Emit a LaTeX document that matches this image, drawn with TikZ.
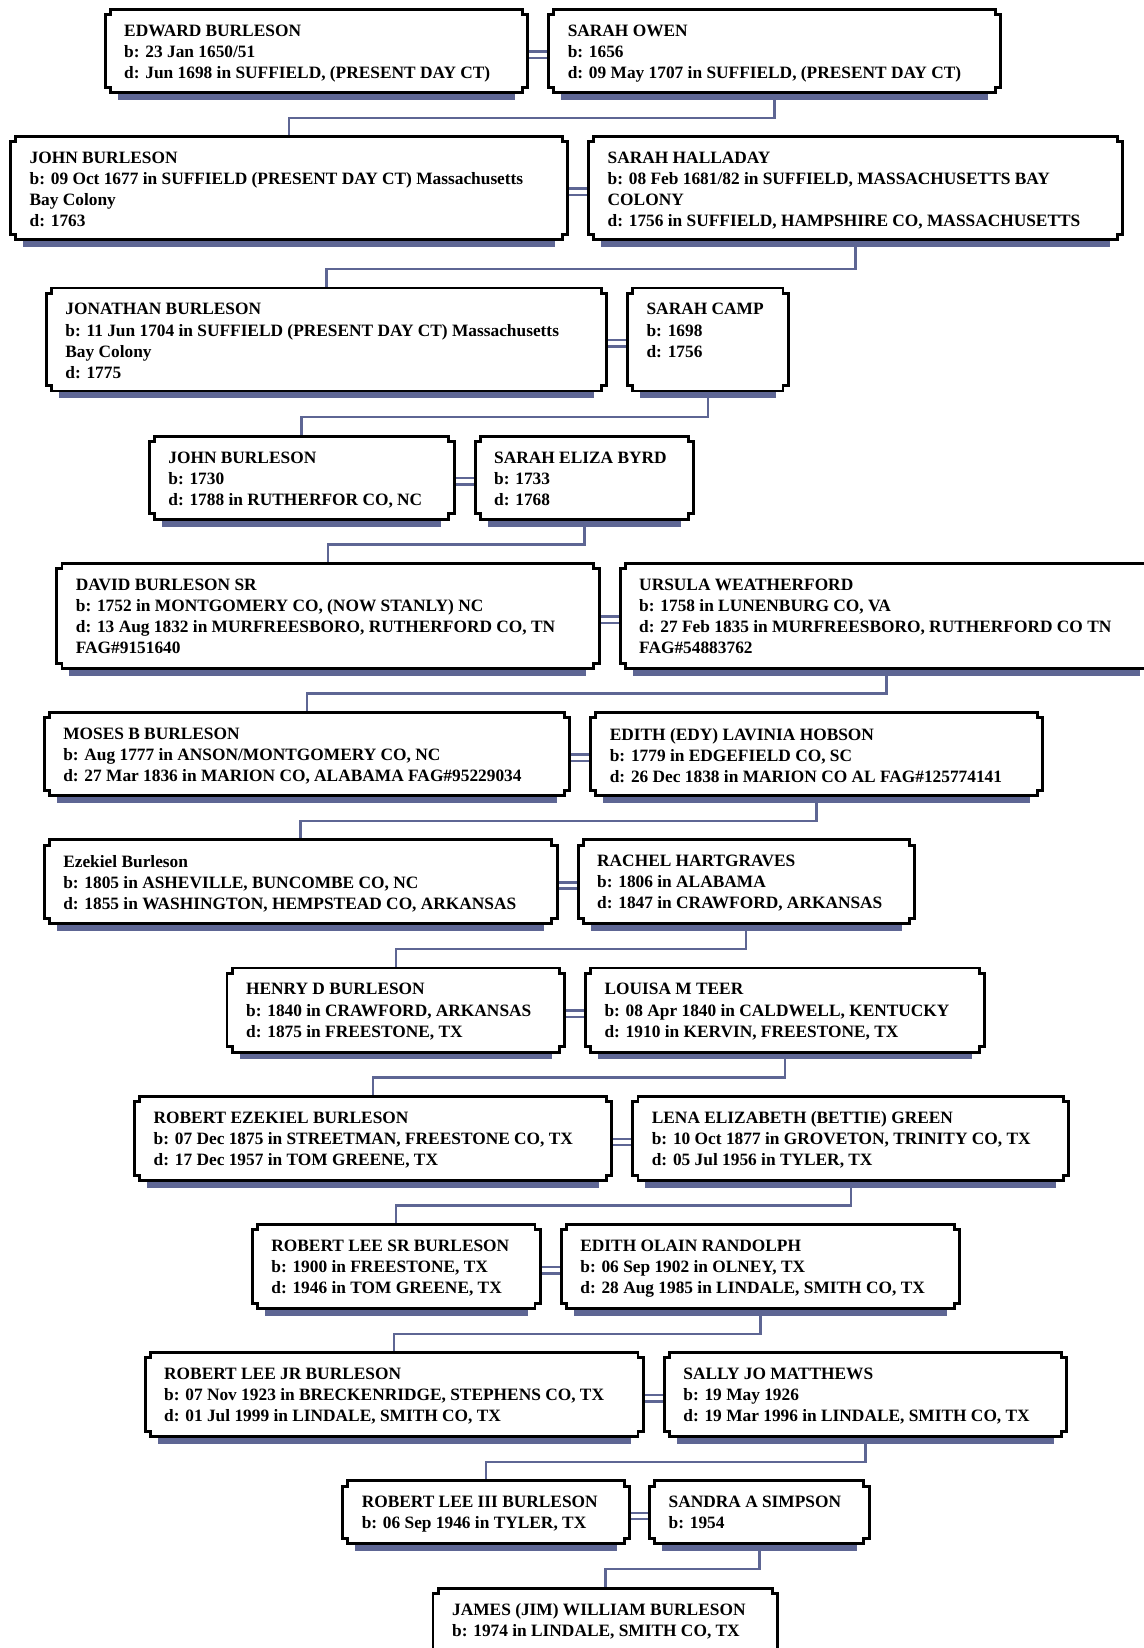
\documentclass[tikz,border=0pt]{standalone}
\usepackage{fontspec}
\setmainfont{Liberation Serif}
\definecolor{shc}{RGB}{94,102,148}
\pgfdeclarelayer{bg}
\pgfsetlayers{bg,main}
\tikzset{
 boxline/.style={draw=black, line width=2.8pt, fill=white, line join=miter},
 conn/.style={draw=shc, line width=2.3pt, line join=miter},
 txt/.style={anchor=north west, inner sep=0pt, align=left, font=\fontsize{16.5}{20.1}\selectfont\bfseries},
 frame/.style={inner sep=0pt, outer sep=0pt, draw=none}
}
\newcommand\fbx[6]{%
 \fill[shc] (#2+12,#5) rectangle (#4-12,#5+7);
 \path[boxline] (#2+5,#3) -- (#4-5,#3) -- (#4-5,#3+5) -- (#4,#3+5) -- (#4,#5-5) -- (#4-5,#5-5) -- (#4-5,#5) -- (#2+5,#5) -- (#2+5,#5-5) -- (#2,#5-5) -- (#2,#3+5) -- (#2+5,#3+5) -- cycle;
 \node[frame, minimum width={(#4-#2)*1pt}, minimum height={(#5-#3)*1pt}, anchor=north west] (#1) at (#2,#3) {};
 \node[txt] (#1-t) at (#2+18,#3+14.5) {#6};
}
\newcommand\marr[2]{%
 \draw[conn] ([yshift=-0.5pt]#1.east) -- ([yshift=-0.5pt]#2.west);
 \draw[conn] ([yshift=-6.5pt]#1.east) -- ([yshift=-6.5pt]#2.west);
}
\newcommand\desc[2]{%
 \draw[conn] (#1.south) |- ([yshift=18pt]#2.north) -- (#2.north);
}
\begin{document}
\begin{tikzpicture}[x=1pt,y=-1pt]
\useasboundingbox (0,0) rectangle (1088,1568);
\fbx{edward}{100}{9}{502}{88}{EDWARD BURLESON\\b: 23 Jan 1650/51\\d: Jun 1698 in SUFFIELD, (PRESENT DAY CT)}
\fbx{owen}{522}{9}{952}{88}{SARAH OWEN\\b: 1656\\d: 09 May 1707 in SUFFIELD, (PRESENT DAY CT)}
\fbx{john1}{10}{130}{540}{228}{JOHN BURLESON\\b: 09 Oct 1677 in SUFFIELD (PRESENT DAY CT) Massachusetts\\Bay Colony\\d: 1763}
\fbx{halladay}{560}{130}{1068}{228}{SARAH HALLADAY\\b: 08 Feb 1681/82 in SUFFIELD, MASSACHUSETTS BAY\\COLONY\\d: 1756 in SUFFIELD, HAMPSHIRE CO, MASSACHUSETTS}
\fbx{jonathan}{44}{274}{577}{372}{JONATHAN BURLESON\\b: 11 Jun 1704 in SUFFIELD (PRESENT DAY CT) Massachusetts\\Bay Colony\\d: 1775}
\fbx{camp}{597}{274}{750}{372}{SARAH CAMP\\b: 1698\\d: 1756}
\fbx{john2}{142}{415}{432}{494}{JOHN BURLESON\\b: 1730\\d: 1788 in RUTHERFOR CO, NC}
\fbx{byrd}{452}{415}{660}{494}{SARAH ELIZA BYRD\\b: 1733\\d: 1768}
\fbx{david}{54}{536}{570}{636}{DAVID BURLESON SR\\b: 1752 in MONTGOMERY CO, (NOW STANLY) NC\\d: 13 Aug 1832 in MURFREESBORO, RUTHERFORD CO, TN\\FAG\#9151640}
\fbx{ursula}{590}{536}{1097}{636}{URSULA WEATHERFORD\\b: 1758 in LUNENBURG CO, VA\\d: 27 Feb 1835 in MURFREESBORO, RUTHERFORD CO TN\\FAG\#54883762}
\fbx{moses}{42}{678}{542}{757}{MOSES B BURLESON\\b: Aug 1777 in ANSON/MONTGOMERY CO, NC\\d: 27 Mar 1836 in MARION CO, ALABAMA FAG\#95229034}
\fbx{hobson}{562}{678}{992}{757}{EDITH (EDY) LAVINIA HOBSON\\b: 1779 in EDGEFIELD CO, SC\\d: 26 Dec 1838 in MARION CO AL FAG\#125774141}
\fbx{ezekiel}{42}{799}{530}{879}{Ezekiel Burleson\\b: 1805 in ASHEVILLE, BUNCOMBE CO, NC\\d: 1855 in WASHINGTON, HEMPSTEAD CO, ARKANSAS}
\fbx{rachel}{550}{799}{870}{879}{RACHEL HARTGRAVES\\b: 1806 in ALABAMA\\d: 1847 in CRAWFORD, ARKANSAS}
\fbx{henry}{216}{921}{537}{1001}{HENRY D BURLESON\\b: 1840 in CRAWFORD, ARKANSAS\\d: 1875 in FREESTONE, TX}
\fbx{louisa}{557}{921}{937}{1001}{LOUISA M TEER\\b: 08 Apr 1840 in CALDWELL, KENTUCKY\\d: 1910 in KERVIN, FREESTONE, TX}
\fbx{roberte}{128}{1043}{582}{1123}{ROBERT EZEKIEL BURLESON\\b: 07 Dec 1875 in STREETMAN, FREESTONE CO, TX\\d: 17 Dec 1957 in TOM GREENE, TX}
\fbx{lena}{602}{1043}{1017}{1123}{LENA ELIZABETH (BETTIE) GREEN\\b: 10 Oct 1877 in GROVETON, TRINITY CO, TX\\d: 05 Jul 1956 in TYLER, TX}
\fbx{rlsr}{240}{1165}{514}{1245}{ROBERT LEE SR BURLESON\\b: 1900 in FREESTONE, TX\\d: 1946 in TOM GREENE, TX}
\fbx{olain}{534}{1165}{913}{1245}{EDITH OLAIN RANDOLPH\\b: 06 Sep 1902 in OLNEY, TX\\d: 28 Aug 1985 in LINDALE, SMITH CO, TX}
\fbx{rljr}{138}{1287}{612}{1367}{ROBERT LEE JR BURLESON\\b: 07 Nov 1923 in BRECKENRIDGE, STEPHENS CO, TX\\d: 01 Jul 1999 in LINDALE, SMITH CO, TX}
\fbx{sally}{632}{1287}{1015}{1367}{SALLY JO MATTHEWS\\b: 19 May 1926\\d: 19 Mar 1996 in LINDALE, SMITH CO, TX}
\fbx{rliii}{326}{1409}{599}{1469}{ROBERT LEE III BURLESON\\b: 06 Sep 1946 in TYLER, TX}
\fbx{sandra}{618}{1409}{827}{1469}{SANDRA A SIMPSON\\b: 1954}
\fbx{james}{412}{1511}{740}{1582}{JAMES (JIM) WILLIAM BURLESON\\b: 1974 in LINDALE, SMITH CO, TX}
\begin{pgfonlayer}{bg}
\marr{edward}{owen}
\marr{john1}{halladay}
\marr{jonathan}{camp}
\marr{john2}{byrd}
\marr{david}{ursula}
\marr{moses}{hobson}
\marr{ezekiel}{rachel}
\marr{henry}{louisa}
\marr{roberte}{lena}
\marr{rlsr}{olain}
\marr{rljr}{sally}
\marr{rliii}{sandra}
\desc{owen}{john1}
\desc{halladay}{jonathan}
\desc{camp}{john2}
\desc{byrd}{david}
\desc{ursula}{moses}
\desc{hobson}{ezekiel}
\desc{rachel}{henry}
\desc{louisa}{roberte}
\desc{lena}{rlsr}
\desc{olain}{rljr}
\desc{sally}{rliii}
\desc{sandra}{james}
\end{pgfonlayer}
\end{tikzpicture}
\end{document}
